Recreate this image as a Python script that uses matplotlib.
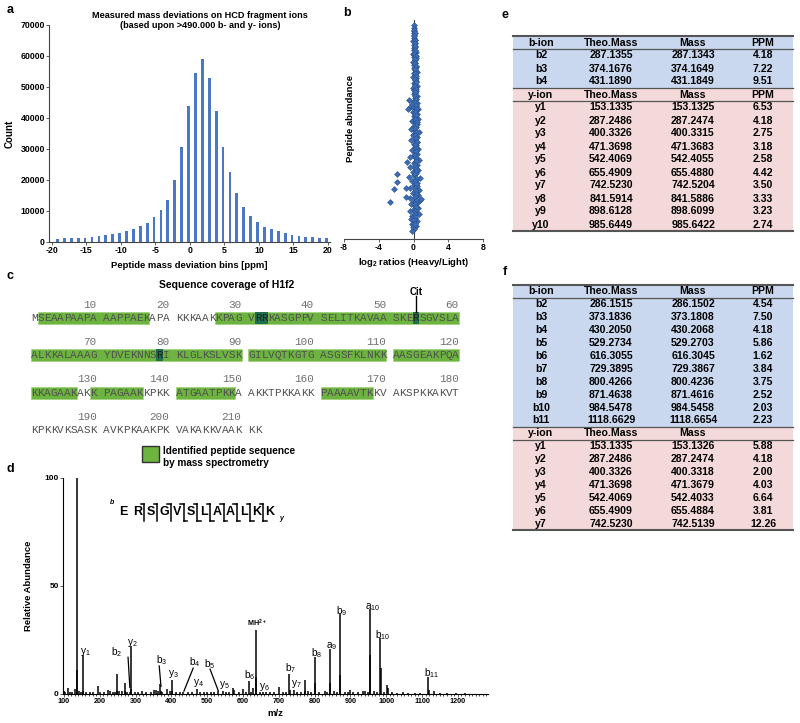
import matplotlib
matplotlib.use("Agg")
import matplotlib.pyplot as plt
from matplotlib.patches import Rectangle
from matplotlib.ticker import MultipleLocator

plt.rcParams["font.family"] = ["Liberation Sans", "DejaVu Sans"]
plt.rcParams["font.weight"] = "bold"
plt.rcParams["axes.labelweight"] = "bold"
plt.rcParams["mathtext.default"] = "regular"
plt.rcParams["axes.unicode_minus"] = False

W, H = 800, 723

# ── a: mass deviation histogram ───────────────────────────────────
dev_bins = list(range(-19, 21))
dev_counts = [1000, 1200, 1200, 1400, 1400, 1700, 1900, 2100, 2600, 3000,
              3600, 4200, 5000, 6200, 8000, 10200, 13600, 19900, 30500, 44000,
              54400, 59000, 52800, 42200, 30500, 22500, 15700, 11300, 8500, 6300,
              4900, 4100, 3400, 2800, 2400, 2000, 1700, 1500, 1400, 1300]

# ── b: heavy/light ratios vs abundance ───────────────────────────
ratio_x = [0.05, 0.02, 0.08, 0.0, 0.1, 0.04, 0.12, -0.02, 0.15, 0.06,
           0.2, 0.0, 0.1, 0.25, -0.05, 0.18, 0.05, 0.3, 0.12, -0.08, 0.22, 0.08, 0.28, 0.0,
           0.15, 0.35, 0.05, 0.2, -0.1, 0.3, 0.12, 0.25, 0.02, 0.18, 0.38, -0.05, 0.1, 0.3,
           0.2, 0.0, 0.4, 0.15,
           -0.55, -0.45, -0.6, 0.25, 0.05, 0.45, -0.15, 0.3, 0.1, 0.5, 0.2, -0.1, 0.35, 0.0,
           0.25, 0.55, -0.2, 0.15, 0.4, 0.05, 0.3, -0.3, 0.2, 0.6, 0.1, -0.05, 0.35, 0.2,
           -0.25, 0.45, 0.0, 0.28, 0.12, 0.5, -0.15, 0.22, 0.38, 0.05, -0.35, 0.3, 0.65,
           0.15, -0.7,
           0.0, 0.4, -0.4, 0.2, 0.55, -0.1, 0.3, 0.1, -0.5, 0.7, 0.25, -0.2, 0.45, 0.05,
           0.35, -0.35, 0.6, 0.15, -0.05, 0.5, 0.25, -0.45, 0.8, 0.1, 0.4, -0.25, 0.2, 0.55,
           0.0, -0.4, 0.3, 0.6, -0.15, 0.15,
           -0.3, 0.35, 0.05, -0.2, 0.25, -0.1, 0.1, -0.15,
           -1.95, -1.95, -2.2, -2.65, -0.9, -0.9, 0.9]
abund_y = [97.7, 96.5, 95.2, 94.0, 93.1, 92.0, 91.0, 90.2, 89.5, 88.6,
           87.8, 87.0, 86.2, 85.5, 84.7, 84.0, 83.2, 82.5, 81.7, 81.0, 80.2, 79.5, 78.7, 78.0,
           77.2, 76.4, 75.7, 75.0, 74.2, 73.5, 72.7, 72.0, 71.2, 70.5, 69.7, 69.0, 68.2, 67.5,
           66.7, 66.0, 65.2, 64.5,
           63.5, 60.5, 59.2, 63.8, 63.0, 62.2, 61.5, 60.8, 60.0, 59.3, 58.5, 57.8, 57.0, 56.3,
           55.5, 54.8, 54.0, 53.3, 52.5, 51.8, 51.0, 50.3, 49.5, 48.8, 48.0, 47.3, 46.5, 45.8,
           45.0, 44.3, 43.5, 42.8, 42.0, 41.3, 40.5, 39.8, 39.0, 38.3, 37.5, 36.8, 36.0,
           35.3, 35.0,
           34.5, 33.8, 33.0, 32.3, 31.5, 30.8, 30.0, 29.3, 28.5, 27.8, 27.0, 26.3, 25.5, 24.8,
           24.0, 23.3, 22.5, 21.8, 21.0, 20.3, 19.5, 18.8, 18.0, 17.3, 16.5, 15.8, 15.0, 14.3,
           13.5, 12.8, 12.0, 11.3, 10.5, 9.8,
           9.0, 8.3, 7.5, 6.8, 6.0, 5.3, 4.5, 3.8,
           29.7, 26.0, 22.8, 16.9, 23.3, 19.2, 18.3]
# dense core of the distribution
core_x = [0.1, 0.15, 0.08, 0.2, 0.12, 0.18, 0.22, 0.1, 0.25, 0.15, 0.2, 0.28, 0.12, 0.22, 0.3,
          0.18, 0.25, 0.15, 0.3, 0.22, 0.2, 0.28, 0.18, 0.32, 0.25, 0.2, 0.3, 0.22, 0.35, 0.25,
          0.18, 0.3, 0.22, 0.28, 0.35, 0.2, 0.3, 0.25, 0.22, 0.32, 0.28, 0.2, 0.3, 0.25, 0.18,
          0.32, 0.22, 0.28, 0.2, 0.3, 0.25, 0.15, 0.28, 0.2, 0.25, 0.12, 0.22, 0.18, 0.1, 0.15]
core_y = [95.5, 94.0, 92.5, 91.0, 89.5, 88.0, 86.5, 85.0, 83.5, 82.0, 80.5, 79.0, 77.5, 76.0, 74.5,
          73.0, 71.5, 70.0, 68.5, 67.0, 65.5, 64.0, 62.5, 61.0, 59.5, 58.0, 56.5, 55.0, 53.5, 52.0,
          50.5, 49.0, 47.5, 46.0, 44.5, 43.0, 41.5, 40.0, 38.5, 37.0, 35.5, 34.0, 32.5, 31.0, 29.5,
          28.0, 26.5, 25.0, 23.5, 22.0, 20.5, 19.0, 17.5, 16.0, 14.5, 13.0, 11.5, 10.0, 8.5, 7.0]

# ── c: H1f2 sequence coverage ─────────────────────────────────────
h1f2_seq = ("MSEAAPAAPAAAPPAEKAPAKKKAAKKPAGVRRKASGPPVSELITKAVAASKERSGVSLA"
            "ALKKALAAAGYDVEKNNSRIKLGLKSLVSKGILVQTKGTGASGSFKLNKKAASGEAKPQA"
            "KKAGAAKAKKPAGAAKKPKKATGAATPKKAAKKTPKKAKKPAAAAVTKKVAKSPKKAKVT"
            "KPKKVKSASKAVKPKAAKPKVAKAKKVAAKKK")
coverage = [(2, 17), (27, 90), (91, 110), (111, 127), (130, 136), (141, 149), (161, 168)]
cit_sites = [32, 33, 54, 79]

# ── d: MS/MS spectrum ─────────────────────────────────────────────
spec_mz = [100, 104, 110, 116, 123, 130, 136, 137, 141, 147,
           153, 154, 162, 172, 181, 194, 200, 211, 222, 229,
           236, 242, 248, 249, 255, 262, 270, 271, 277, 284,
           287, 288, 298, 306, 318, 330, 344, 352, 357, 362,
           368, 370, 375, 387, 395, 401, 402, 412, 423, 432,
           446, 458, 471, 480, 490, 500, 510, 520, 530, 543,
           552, 560, 571, 575, 588, 600, 608, 617, 622, 628,
           636, 637, 648, 656, 663, 675, 688, 702, 713, 720,
           729, 730, 742, 752, 762, 772, 773, 782, 790, 800,
           801, 813, 828, 835, 843, 844, 855, 862, 871, 872,
           885, 893, 899, 908, 920, 934, 941, 948, 955, 956,
           966, 975, 984, 985, 994, 1001, 1004, 1015, 1030, 1047,
           1062, 1080, 1095, 1118, 1119, 1134, 1150, 1170, 1195, 1220]
spec_int = [1.5, 1.0, 3.0, 1.0, 0.8, 2.5, 100, 11, 1.2, 1.0,
            18, 1.5, 0.8, 0.8, 1.0, 3.7, 0.8, 1.0, 2.0, 1.2,
            0.8, 1.0, 9.3, 1.5, 1.5, 1.2, 5.0, 1.5, 0.8, 1.0,
            22, 2.5, 1.0, 0.8, 1.3, 0.8, 1.0, 2.0, 2.0, 1.2,
            4.5, 1.5, 1.0, 2.2, 1.5, 6.5, 1.2, 0.8, 1.0, 1.0,
            0.8, 0.8, 2.5, 0.8, 0.8, 1.0, 1.0, 0.8, 1.5, 1.5,
            1.0, 0.8, 2.8, 2.0, 1.0, 2.5, 0.8, 6.0, 1.0, 3.0,
            29.6, 8.0, 1.0, 1.0, 1.0, 0.8, 0.8, 3.3, 1.0, 0.8,
            9.3, 2.0, 2.0, 0.8, 1.0, 6.5, 1.5, 1.5, 0.8, 17,
            5.0, 1.0, 1.5, 0.8, 20.7, 5.0, 1.5, 0.8, 37, 9.0,
            0.8, 1.0, 2.0, 1.0, 0.8, 1.2, 1.5, 0.8, 39.3, 18,
            1.5, 0.8, 26, 12, 0.8, 4.2, 3.0, 0.8, 0.6, 1.0,
            0.6, 0.5, 0.6, 7.8, 2.0, 1.5, 0.6, 0.5, 0.5, 0.5]
ion_labels = ["y_{1}", "b_{2}", "y_{2}", "b_{3}", "y_{3}", "b_{4}", "y_{4}", "b_{5}", "y_{5}",
              "b_{6}", "y_{6}", "b_{7}", "y_{7}", "b_{8}", "a_{9}", "b_{9}", "a_{10}", "b_{10}", "b_{11}"]
label_mz = [159, 248, 292, 373, 405, 466, 475, 508, 547, 619, 661, 734, 748, 806, 848, 876, 963, 991, 1128]
label_int = [19.4, 19.4, 23.6, 15.7, 9.3, 14.8, 5.0, 13.9, 4.2, 8.8, 3.3, 12.0, 4.6, 18.9, 22.2, 38.4, 40.4, 27.3, 9.7]
peptide = "ERSGVSLAALKK"
b_breaks = [2, 3, 4, 5, 6, 7, 8, 9, 10, 11]
y_breaks = [5, 6, 7, 8, 9, 10, 11]

# ── e / f: fragment ion tables ────────────────────────────────────
e_b_theo = [287.1355, 374.1676, 431.1890]
e_b_mass = [287.1343, 374.1649, 431.1849]
e_b_ppm = [4.18, 7.22, 9.51]
e_y_theo = [153.1335, 287.2486, 400.3326, 471.3698, 542.4069, 655.4909, 742.5230, 841.5914, 898.6128, 985.6449]
e_y_mass = [153.1325, 287.2474, 400.3315, 471.3683, 542.4055, 655.4880, 742.5204, 841.5886, 898.6099, 985.6422]
e_y_ppm = [6.53, 4.18, 2.75, 3.18, 2.58, 4.42, 3.50, 3.33, 3.23, 2.74]
f_b_theo = [286.1515, 373.1836, 430.2050, 529.2734, 616.3055, 729.3895, 800.4266, 871.4638, 984.5478, 1118.6629]
f_b_mass = [286.1502, 373.1808, 430.2068, 529.2703, 616.3045, 729.3867, 800.4236, 871.4616, 984.5458, 1118.6654]
f_b_ppm = [4.54, 7.50, 4.18, 5.86, 1.62, 3.84, 3.75, 2.52, 2.03, 2.23]
f_y_theo = [153.1335, 287.2486, 400.3326, 471.3698, 542.4069, 655.4909, 742.5230]
f_y_mass = [153.1326, 287.2474, 400.3318, 471.3679, 542.4033, 655.4884, 742.5139]
f_y_ppm = [5.88, 4.18, 2.00, 4.03, 6.64, 3.81, 12.26]


def frac(x0, y0, x1, y1):
    return [x0 / W, 1 - y1 / H, (x1 - x0) / W, (y1 - y0) / H]


def style_axes(ax, size=6):
    for s in ["top", "right"]:
        ax.spines[s].set_visible(False)
    for s in ["left", "bottom"]:
        ax.spines[s].set_color("#444444")
        ax.spines[s].set_linewidth(0.8)
    ax.tick_params(labelsize=size, length=2, width=0.6, color="#444444", pad=1)


fig = plt.figure(figsize=(8, 7.23), dpi=100)

# a
ax_a = fig.add_axes(frac(49, 25, 330, 242))
ax_a.bar([b - 0.2 for b in dev_bins], dev_counts, width=0.4, color="#4a78c2")
ax_a.set_xlim(-20.43, 20.3)
ax_a.set_ylim(0, 70000)
ax_a.set_xticks(range(-20, 21, 5))
ax_a.set_yticks(range(0, 70001, 10000))
style_axes(ax_a, 6.3)
ax_a.set_xlabel("Peptide mass deviation bins [ppm]", fontsize=6.8, labelpad=4)
ax_a.set_ylabel("Count", fontsize=7, labelpad=4)

# b
ax_b = fig.add_axes(frac(344, 20, 483, 239))
ax_b.scatter(ratio_x + core_x, abund_y + core_y, marker="D", s=9, color="#3d6db5",
             edgecolor="#27508f", linewidth=0.4, zorder=3)
ax_b.set_xlim(-8, 8)
ax_b.set_ylim(0, 100)
ax_b.set_xticks([-8, -4, 0, 4, 8])
ax_b.set_yticks([])
style_axes(ax_b, 6.3)
ax_b.spines["left"].set_position(("data", 0))
ax_b.set_xlabel(r"log$_2$ ratios (Heavy/Light)", fontsize=6.8, labelpad=3)
ax_b.text(-7.3, 55, "Peptide abundance", rotation=90, ha="center", va="center", fontsize=6.8)

# d
ax_d = fig.add_axes(frac(62.9, 478, 487.5, 694))
ax_d.vlines(spec_mz, 0, spec_int, color="black", linewidth=1.1)
ax_d.set_xlim(97, 1283)
ax_d.set_ylim(0, 100)
ax_d.set_xticks(range(100, 1201, 100))
ax_d.set_yticks([0, 50, 100])
ax_d.xaxis.set_minor_locator(MultipleLocator(10))
style_axes(ax_d, 6)
ax_d.tick_params(axis="x", labelsize=5.2)
ax_d.tick_params(axis="x", which="minor", length=1.5, width=0.5)
ax_d.spines["left"].set_color("black")
ax_d.spines["bottom"].set_color("black")
ax_d.patch.set_visible(False)
for lab, xm, yi in zip(ion_labels, label_mz, label_int):
    ax_d.text(xm, yi, "$%s$" % lab, ha="center", va="center", fontsize=7.3, fontweight="normal")
ax_d.text(638, 32.5, r"$MH^{2+}$", ha="center", va="center", fontsize=5.2)
for x0, y0, x1, y1 in [(279, 17, 284, 3), (366, 13, 371, 3.5), (461, 12, 435, 1.3), (508, 11.5, 531, 1.5)]:
    ax_d.plot([x0, x1], [y0, y1], color="black", linewidth=0.9)
ax_d.set_xlabel("m/z", fontsize=6.8, labelpad=3)
ax_d.set_ylabel("Relative Abundance", fontsize=6.8, labelpad=8)

# overlay in pixel space for sequence, tables and panel letters
ov = fig.add_axes([0, 0, 1, 1])
ov.set_xlim(0, W)
ov.set_ylim(H, 0)
ov.axis("off")
ov.patch.set_visible(False)

for lab, x, y in [("a", 10, 10), ("b", 347, 13), ("c", 10, 276), ("d", 10, 469), ("e", 505, 15), ("f", 505, 272)]:
    ov.text(x, y, lab, fontsize=9, ha="center", va="center")

ov.text(200, 15, "Measured mass deviations on HCD fragment ions", fontsize=6.6, ha="center", va="center")
ov.text(200, 25, "(based upon >490.000 b- and y- ions)", fontsize=6.6, ha="center", va="center")

# sequence coverage
SX0, CW, SY0, LH = 31, 6.58, 318, 37.4


def res_pos(r):
    i = r - 1
    k = i % 60
    col = (k // 10) * 11 + k % 10
    return SX0 + col * CW, SY0 + (i // 60) * LH


ov.text(227, 285, "Sequence coverage of H1f2", fontsize=7.5, ha="center", va="center")
for start, end in coverage:
    r = start
    while r <= end:
        line_end = min(end, ((r - 1) // 60 + 1) * 60)
        x0, y = res_pos(r)
        x1, _ = res_pos(line_end)
        ov.add_patch(Rectangle((x0, y - 6), x1 + CW - x0, 12, facecolor="#6cb33f",
                               edgecolor="#9fd27a", linewidth=0.5, zorder=1))
        r = line_end + 1
for r in cit_sites:
    x0, y = res_pos(r)
    ov.add_patch(Rectangle((x0, y - 6), CW, 12, facecolor="#1f6e4c", edgecolor="none", zorder=1.5))
for r, aa in enumerate(h1f2_seq, start=1):
    x0, y = res_pos(r)
    ov.text(x0 + CW / 2, y, aa, fontsize=7.9, family="Liberation Mono", fontweight="normal",
            color="#202020" if r in cit_sites else "#505050", ha="center", va="center", zorder=2)
    if r % 10 == 0:
        ov.text(x0 + CW, y - 13.5, str(r), fontsize=7.9, family="Liberation Mono", fontweight="normal",
                color="#707070", ha="right", va="center")
cx, _ = res_pos(54)
ov.text(cx + CW / 2, 292, "Cit", fontsize=7, ha="center", va="center")
ov.plot([cx + CW / 2, cx + CW / 2], [296, 312], color="black", linewidth=1)

ov.add_patch(Rectangle((142, 446), 17, 16, facecolor="#6cb33f", edgecolor="#333333", linewidth=1))
ov.text(163, 451, "Identified peptide sequence", fontsize=7.2, va="center")
ov.text(163, 463, "by mass spectrometry", fontsize=7.2, va="center")

# peptide fragment map on the spectrum
pep_x = [123, 137.5] + [137.5 + 13.25 * i for i in range(1, len(peptide) - 1)]
for aa, x in zip(peptide, pep_x):
    ov.text(x, 512, aa, fontsize=9, ha="center", va="center")
ov.text(112, 503, "b", fontsize=5, fontstyle="italic", ha="center", va="center")
ov.text(281, 519, "y", fontsize=5, fontstyle="italic", ha="center", va="center")
for n in range(2, len(peptide)):
    xb = (pep_x[n - 1] + pep_x[n]) / 2
    ov.plot([xb, xb], [504, 521], color="black", linewidth=1.1)
    if n in b_breaks:
        ov.plot([xb - 3.5, xb], [504, 504], color="black", linewidth=1.1)
    if n in y_breaks:
        ov.plot([xb, xb + 3.5], [521, 521], color="black", linewidth=1.1)

# tables
COLS = [541, 611, 693, 763]
TX0, TX1 = 513, 793
BLUE, PINK = "#c9d8ef", "#f3d9d9"


def draw_table(top, h, b_theo, b_mass, b_ppm, y_theo, y_mass, y_ppm, y_ppm_head=True):
    rows = [(["b-ion", "Theo.Mass", "Mass", "PPM"], BLUE)]
    for i, (t, m, p) in enumerate(zip(b_theo, b_mass, b_ppm)):
        rows.append(([f"b{i + 2}", f"{t:.4f}", f"{m:.4f}", f"{p:.2f}"], BLUE))
    rows.append((["y-ion", "Theo.Mass", "Mass", "PPM" if y_ppm_head else ""], PINK))
    for i, (t, m, p) in enumerate(zip(y_theo, y_mass, y_ppm)):
        rows.append(([f"y{i + 1}", f"{t:.4f}", f"{m:.4f}", f"{p:.2f}"], PINK))
    for k, (cells, colr) in enumerate(rows):
        y0 = top + k * h
        ov.add_patch(Rectangle((TX0, y0), TX1 - TX0, h, facecolor=colr, edgecolor="none", zorder=0))
        for cxx, txt in zip(COLS, cells):
            ov.text(cxx, y0 + h / 2, txt, fontsize=7.6, ha="center", va="center")
    nb = len(b_theo)
    bottom = top + len(rows) * h
    for yy, lw in [(top, 1.5), (top + h, 0.9), (top + (nb + 1) * h, 0.9), (top + (nb + 2) * h, 0.9), (bottom, 1.5)]:
        ov.plot([TX0, TX1], [yy, yy], color="#555555", linewidth=lw)


draw_table(36, 13.0, e_b_theo, e_b_mass, e_b_ppm, e_y_theo, e_y_mass, e_y_ppm)
draw_table(285, 12.9, f_b_theo, f_b_mass, f_b_ppm, f_y_theo, f_y_mass, f_y_ppm, y_ppm_head=False)

plt.savefig("out.png", dpi=100)
plt.close()
